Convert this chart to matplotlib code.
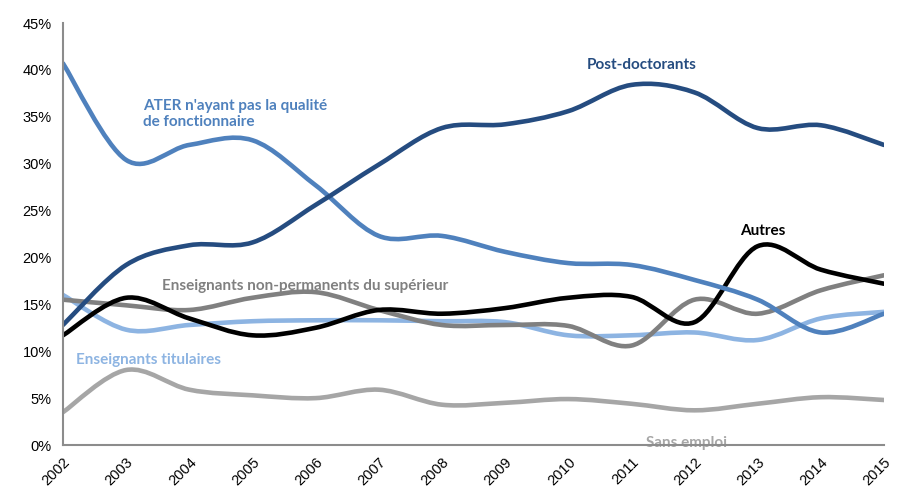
import matplotlib
matplotlib.use('Agg')
import matplotlib.pyplot as plt
from matplotlib.path import Path
from matplotlib.patches import PathPatch
from matplotlib.ticker import FuncFormatter
import numpy as np

years = list(range(2002, 2016))

post_doc = [12.8, 19.2, 21.3, 21.6, 25.6, 29.9, 33.8, 34.2, 35.6, 38.4, 37.6, 33.8, 34.1, 32.0]
ater = [40.7, 30.4, 32.0, 32.5, 27.7, 22.3, 22.3, 20.6, 19.4, 19.2, 17.6, 15.5, 12.0, 14.0]
autres = [11.7, 15.7, 13.5, 11.7, 12.5, 14.4, 14.0, 14.6, 15.7, 15.8, 13.1, 21.2, 18.7, 17.2]
non_perm = [15.5, 14.9, 14.4, 15.7, 16.3, 14.4, 12.8, 12.8, 12.7, 10.6, 15.5, 14.0, 16.5, 18.1]
titulaires = [16.0, 12.3, 12.8, 13.2, 13.3, 13.3, 13.2, 13.1, 11.7, 11.7, 12.0, 11.2, 13.5, 14.2]
sans_emploi = [3.5, 8.0, 5.9, 5.3, 5.0, 5.9, 4.3, 4.5, 4.9, 4.4, 3.7, 4.4, 5.1, 4.8]

c_post = '#254C80'
c_ater = '#4F81BD'
c_autres = '#000000'
c_nonperm = '#808080'
c_tit = '#8DB4E2'
c_sans = '#A6A6A6'


def smooth_path(x, y):
    # bezier path like excel's smoothed lines (catmull-rom control points)
    x = np.asarray(x, float)
    y = np.asarray(y, float)
    n = len(x)
    verts = [(x[0], y[0])]
    codes = [Path.MOVETO]
    for i in range(n - 1):
        x0, y0 = (x[i - 1], y[i - 1]) if i > 0 else (x[i], y[i])
        x3, y3 = (x[i + 2], y[i + 2]) if i + 2 < n else (x[i + 1], y[i + 1])
        c1 = (x[i] + (x[i + 1] - x0) / 6, y[i] + (y[i + 1] - y0) / 6)
        c2 = (x[i + 1] - (x3 - x[i]) / 6, y[i + 1] - (y3 - y[i]) / 6)
        verts += [c1, c2, (x[i + 1], y[i + 1])]
        codes += [Path.CURVE4] * 3
    return Path(verts, codes)


fig = plt.figure(figsize=(9.02, 4.9), dpi=100)
ax = fig.add_axes([0.0698, 0.0918, 0.9102, 0.8612])

series = [
    (sans_emploi, c_sans),
    (titulaires, c_tit),
    (non_perm, c_nonperm),
    (autres, c_autres),
    (ater, c_ater),
    (post_doc, c_post),
]
for vals, col in series:
    p = PathPatch(smooth_path(years, vals), facecolor='none', edgecolor=col,
                  lw=3.3, capstyle='round', joinstyle='round', zorder=3)
    ax.add_patch(p)

ax.set_xlim(2002, 2015)
ax.set_ylim(0, 45)
ax.set_yticks(range(0, 46, 5))
ax.yaxis.set_major_formatter(FuncFormatter(lambda v, pos: '%d%%' % v))
ax.set_xticks(years)
ax.set_xticklabels([str(y) for y in years], rotation=45, ha='right',
                   rotation_mode='anchor', fontsize=10.5, family='Liberation Sans')
for lab in ax.get_yticklabels():
    lab.set_family('Liberation Sans')
    lab.set_fontsize(10.5)
ax.tick_params(axis='both', length=0, pad=8)
ax.tick_params(axis='x', pad=7)

for s in ['top', 'right']:
    ax.spines[s].set_visible(False)
for s in ['left', 'bottom']:
    ax.spines[s].set_color('#8C8C8C')
    ax.spines[s].set_linewidth(1.5)
    ax.spines[s].set_zorder(5)

fw = dict(fontsize=11, fontweight='bold', family='Lato')
ax.text(2011.17, 40.5, 'Post-doctorants', color=c_post, ha='center', va='center', **fw)
ax.text(2003.27, 35.3, "ATER n'ayant pas la qualité\nde fonctionnaire", color=c_ater,
        ha='left', va='center', linespacing=1.25, **fw)
ax.text(2013.08, 22.8, 'Autres', color=c_autres, ha='center', va='center', **fw)
ax.text(2003.57, 17.0, 'Enseignants non-permanents du supérieur', color=c_nonperm,
        ha='left', va='center', zorder=2, **fw)
ax.text(2002.2, 9.1, 'Enseignants titulaires', color=c_tit, ha='left', va='center', **fw)
ax.text(2011.87, 0.2, 'Sans emploi', color=c_sans, ha='center', va='center', zorder=1, **fw)

fig.savefig('out.png', dpi=100)
